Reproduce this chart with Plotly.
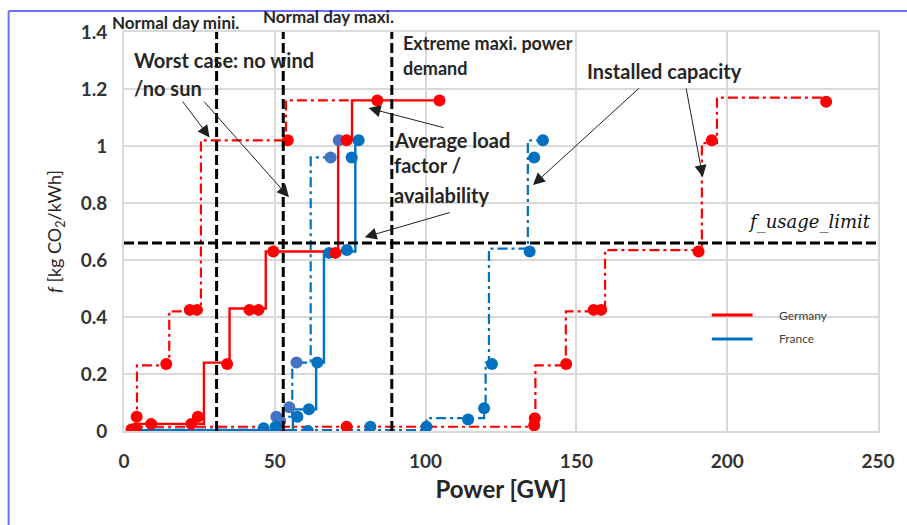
import plotly.graph_objects as go

# ---------------- data ----------------
# Germany - average load factor / availability (solid step curve)
de_avg_step_x = [3, 5, 26.5, 35, 47, 71, 75.6, 104.6]
de_avg_step_y = [0.0, 0.025, 0.24, 0.43, 0.63, 1.02, 1.16, 1.16]
de_avg_pts_x = [2.5, 4.0, 4.2, 9.0, 22.3, 24.5, 34.2, 41.6, 44.6, 49.5, 70.1, 73.8, 84.0, 104.6]
de_avg_pts_y = [0.005, 0.01, 0.05, 0.025, 0.025, 0.05, 0.235, 0.425, 0.425, 0.63, 0.625, 1.02, 1.16, 1.16]

# Germany - worst case no wind / no sun (dash-dot step curve)
de_wc_step_x = [3, 4.3, 15, 25.5, 53.7, 76]
de_wc_step_y = [0.04, 0.23, 0.42, 1.02, 1.16, 1.16]
de_wc_pts_x = [14.0, 21.8, 24.2, 54.3]
de_wc_pts_y = [0.235, 0.425, 0.425, 1.02]

# Germany - installed capacity (dash-dot step curve)
de_inst_step_x = [3, 136.4, 146.5, 159.5, 191.6, 196.6, 232.8]
de_inst_step_y = [0.015, 0.23, 0.42, 0.635, 1.01, 1.17, 1.17]
de_inst_pts_x = [73.8, 136.0, 136.2, 146.6, 155.7, 158.2, 190.5, 194.9, 232.8]
de_inst_pts_y = [0.015, 0.02, 0.045, 0.235, 0.425, 0.425, 0.63, 1.02, 1.155]

# France - average load factor / availability (solid step curve)
fr_avg_step_x = [3, 56, 63.7, 66.3, 76.7, 77.8]
fr_avg_step_y = [0.003, 0.076, 0.24, 0.63, 1.02, 1.02]
fr_avg_pts_x = [46.3, 50.3, 57.5, 61.3, 61.0, 64.1, 68.0, 73.9, 75.5, 77.8, 81.7]
fr_avg_pts_y = [0.01, 0.015, 0.05, 0.076, 0.0, 0.24, 0.625, 0.635, 0.96, 1.02, 0.015]

# France - worst case (dash-dot step curve)
fr_wc_step_x = [3, 50.5, 55.8, 61.9, 68.5]
fr_wc_step_y = [0.005, 0.05, 0.24, 0.96, 0.96]
fr_wc_pts_x = [50.5, 51.8, 54.8, 57.2, 68.5, 71.2]
fr_wc_pts_y = [0.05, 0.035, 0.083, 0.24, 0.96, 1.02]

# France - installed capacity (dash-dot step curve)
fr_inst_step_x = [3, 100.3, 119.4, 119.9, 121.0, 133.9, 138.9]
fr_inst_step_y = [0.003, 0.045, 0.08, 0.24, 0.64, 1.02, 1.02]
fr_inst_pts_x = [100.3, 114.1, 119.4, 122.0, 134.5, 136.0, 138.9]
fr_inst_pts_y = [0.015, 0.04, 0.08, 0.235, 0.63, 0.96, 1.02]

# reference levels
demand_levels = [30.7, 52.8, 88.8]   # normal day mini / normal day maxi / extreme maxi
f_usage_limit = 0.66

x_ticks = [0, 50, 100, 150, 200, 250]
y_ticks = [0, 0.2, 0.4, 0.6, 0.8, 1, 1.2, 1.4]
y_tick_text = ["0", "0.2", "0.4", "0.6", "0.8", "1", "1.2", "1.4"]

RED = "#FF0000"
BLUE = "#0070C0"
BLUE2 = "#4472C4"
DASHDOT = "10px,4px,3px,4px"
FONT = "Lato"

fig = go.Figure()


def step(x, y, color, dash, width=2.2):
    fig.add_trace(go.Scatter(x=x, y=y, mode="lines", line_shape="hv",
                             line=dict(color=color, dash=dash, width=width),
                             showlegend=False, hoverinfo="skip"))


def pts(x, y, color):
    fig.add_trace(go.Scatter(x=x, y=y, mode="markers",
                             marker=dict(color=color, size=12),
                             showlegend=False, hoverinfo="skip"))


# installed capacity (dash-dot)
step(fr_inst_step_x, fr_inst_step_y, BLUE, DASHDOT)
step(de_inst_step_x, de_inst_step_y, RED, DASHDOT)
# worst case (dash-dot)
step(fr_wc_step_x, fr_wc_step_y, BLUE, DASHDOT)
step(de_wc_step_x, de_wc_step_y, RED, DASHDOT)
# average (solid)
step(fr_avg_step_x, fr_avg_step_y, BLUE, "solid", 2.4)
step(de_avg_step_x, de_avg_step_y, RED, "solid", 2.4)

pts(fr_inst_pts_x, fr_inst_pts_y, BLUE)
pts(de_inst_pts_x, de_inst_pts_y, RED)
pts(fr_wc_pts_x, fr_wc_pts_y, BLUE2)
pts(de_wc_pts_x, de_wc_pts_y, RED)
pts(fr_avg_pts_x, fr_avg_pts_y, BLUE)
pts(de_avg_pts_x, de_avg_pts_y, RED)

shapes = []
for xv in demand_levels:
    shapes.append(dict(type="line", xref="x", yref="y", x0=xv, x1=xv, y0=0, y1=1.4,
                       line=dict(color="black", width=3, dash="10px,4px")))
shapes.append(dict(type="line", xref="x", yref="y", x0=0, x1=250, y0=f_usage_limit, y1=f_usage_limit,
                   line=dict(color="black", width=3, dash="10px,4px")))

# legend samples
shapes.append(dict(type="line", xref="x", yref="y", x0=194.9, x1=208.4, y0=0.407, y1=0.407,
                   line=dict(color=RED, width=3)))
shapes.append(dict(type="line", xref="x", yref="y", x0=194.9, x1=208.4, y0=0.323, y1=0.323,
                   line=dict(color=BLUE, width=3)))

# blue frame around figure
shapes.append(dict(type="line", xref="paper", yref="paper", x0=-0.153, x1=1.05, y0=1.0526, y1=1.0526,
                   line=dict(color="#6E6EFF", width=2)))
shapes.append(dict(type="line", xref="paper", yref="paper", x0=-0.153, x1=-0.153, y0=1.0526, y1=-0.26,
                   line=dict(color="#6E6EFF", width=2)))

ann = []


def txt(x, y, s, size, xanchor="left", italic=False, bold=True, family=FONT, color="#262626",
        ref="x"):
    t = s
    if bold:
        t = "<b>" + t + "</b>"
    if italic:
        t = "<i>" + t + "</i>"
    ann.append(dict(x=x, y=y, xref=ref if ref == "paper" else "x", yref=ref if ref == "paper" else "y",
                    text=t, showarrow=False,
                    xanchor=xanchor, yanchor="middle",
                    font=dict(family=family, size=size, color=color)))


txt(-0.0185, 1.025, "Normal day mini.", 17, ref="paper")
txt(0.182, 1.0376, "Normal day maxi.", 17, ref="paper")
txt(2.6, 1.302, "Worst case: no wind", 20)
txt(2.6, 1.204, "/no sun", 20)
txt(91.7, 1.361, "Extreme maxi. power", 18)
txt(91.7, 1.274, "demand", 18)
txt(88.7, 1.021, "Average load", 20)
txt(88.7, 0.933, "factor /", 20)
txt(88.7, 0.828, "availability", 20)
txt(153.0, 1.263, "Installed capacity", 20)
txt(248.3, 0.733, "f_usage_limit", 18, xanchor="right", italic=True, bold=False,
    family="DejaVu Serif", color="#111111")
txt(216.4, 0.407, "Germany", 12, bold=False, color="#404040")
txt(216.4, 0.323, "France", 12, bold=False, color="#404040")


def arrow(tx, ty, hx, hy):
    ann.append(dict(x=hx, y=hy, ax=tx, ay=ty, xref="x", yref="y", axref="x", ayref="y",
                    text="", showarrow=True, arrowhead=2, arrowsize=2.4, arrowwidth=1,
                    arrowcolor="#202020"))


arrow(19.1, 1.161, 28.4, 1.03)
arrow(26.1, 1.161, 54.7, 0.82)
arrow(106.5, 1.063, 81.1, 1.133)
arrow(108.5, 0.768, 79.8, 0.68)
arrow(171.2, 1.207, 135.6, 0.863)
arrow(186.3, 1.207, 191.9, 0.891)

fig.update_layout(
    width=907, height=525,
    margin=dict(l=124, r=25, t=32, b=94),
    paper_bgcolor="white", plot_bgcolor="white",
    shapes=shapes, annotations=ann,
    showlegend=False,
    font=dict(family=FONT, color="#404040"),
)
fig.update_xaxes(range=[0, 250], tickvals=x_ticks, ticktext=["<b>" + str(v) + "</b>" for v in x_ticks],
                 showgrid=True, gridcolor="#D9D9D9", gridwidth=1.5,
                 zeroline=False, showline=True, mirror=True, linecolor="#D9D9D9", linewidth=2,
                 tickfont=dict(family=FONT, size=19, color="#333333"), ticks="",
                 ticklabelstandoff=12,
                 title=dict(text="<b>Power [GW]</b>", font=dict(family=FONT, size=24, color="#262626"),
                            standoff=10))
fig.update_yaxes(range=[0, 1.4], tickvals=y_ticks, ticktext=["<b>" + t + "</b>" for t in y_tick_text],
                 showgrid=True, gridcolor="#D9D9D9", gridwidth=1.5,
                 zeroline=False, showline=True, mirror=True, linecolor="#D9D9D9", linewidth=2,
                 tickfont=dict(family=FONT, size=19, color="#333333"), ticks="",
                 ticklabelstandoff=11,
                 title=dict(text="<i>f</i> [kg CO<sub>2</sub>/kWh]",
                            font=dict(family=FONT, size=18, color="#262626"), standoff=14))

fig.write_html("out.html")
